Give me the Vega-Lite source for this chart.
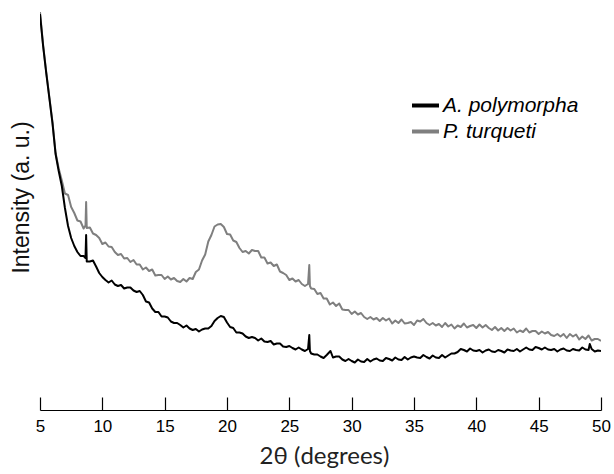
{
  "$schema": "https://vega.github.io/schema/vega-lite/v6.json",
  "width": 561,
  "height": 400,
  "autosize": "none",
  "padding": {"left": 40, "top": 10, "right": 13, "bottom": 64},
  "background": "white",
  "config": {"view": {"stroke": null}},
  "data": {
    "values": [
      {"t": 5.0, "i": 398, "s": "P. turqueti"},
      {"t": 5.25, "i": 365, "s": "P. turqueti"},
      {"t": 5.5, "i": 338, "s": "P. turqueti"},
      {"t": 5.75, "i": 313, "s": "P. turqueti"},
      {"t": 6.0, "i": 288, "s": "P. turqueti"},
      {"t": 6.25, "i": 257, "s": "P. turqueti"},
      {"t": 6.5, "i": 241.5, "s": "P. turqueti"},
      {"t": 6.75, "i": 229.5, "s": "P. turqueti"},
      {"t": 7.0, "i": 216.5, "s": "P. turqueti"},
      {"t": 7.25, "i": 215, "s": "P. turqueti"},
      {"t": 7.5, "i": 203, "s": "P. turqueti"},
      {"t": 7.75, "i": 197, "s": "P. turqueti"},
      {"t": 8.0, "i": 189.5, "s": "P. turqueti"},
      {"t": 8.25, "i": 188.5, "s": "P. turqueti"},
      {"t": 8.5, "i": 181.5, "s": "P. turqueti"},
      {"t": 8.65, "i": 184.5, "s": "P. turqueti"},
      {"t": 8.7, "i": 208, "s": "P. turqueti"},
      {"t": 8.75, "i": 182, "s": "P. turqueti"},
      {"t": 9.0, "i": 182.5, "s": "P. turqueti"},
      {"t": 9.25, "i": 176.5, "s": "P. turqueti"},
      {"t": 9.5, "i": 175, "s": "P. turqueti"},
      {"t": 9.75, "i": 172, "s": "P. turqueti"},
      {"t": 10.0, "i": 166, "s": "P. turqueti"},
      {"t": 10.25, "i": 167.5, "s": "P. turqueti"},
      {"t": 10.5, "i": 163.5, "s": "P. turqueti"},
      {"t": 10.75, "i": 163, "s": "P. turqueti"},
      {"t": 11.0, "i": 158, "s": "P. turqueti"},
      {"t": 11.25, "i": 155, "s": "P. turqueti"},
      {"t": 11.5, "i": 156, "s": "P. turqueti"},
      {"t": 11.75, "i": 151.5, "s": "P. turqueti"},
      {"t": 12.0, "i": 152, "s": "P. turqueti"},
      {"t": 12.25, "i": 148, "s": "P. turqueti"},
      {"t": 12.5, "i": 150, "s": "P. turqueti"},
      {"t": 12.75, "i": 145.5, "s": "P. turqueti"},
      {"t": 13.0, "i": 145.5, "s": "P. turqueti"},
      {"t": 13.25, "i": 140.5, "s": "P. turqueti"},
      {"t": 13.5, "i": 142.5, "s": "P. turqueti"},
      {"t": 13.75, "i": 139, "s": "P. turqueti"},
      {"t": 14.0, "i": 140.5, "s": "P. turqueti"},
      {"t": 14.25, "i": 134.5, "s": "P. turqueti"},
      {"t": 14.5, "i": 135, "s": "P. turqueti"},
      {"t": 14.75, "i": 135, "s": "P. turqueti"},
      {"t": 15.0, "i": 131, "s": "P. turqueti"},
      {"t": 15.25, "i": 133.5, "s": "P. turqueti"},
      {"t": 15.5, "i": 130.5, "s": "P. turqueti"},
      {"t": 15.75, "i": 132, "s": "P. turqueti"},
      {"t": 16.0, "i": 129, "s": "P. turqueti"},
      {"t": 16.25, "i": 128, "s": "P. turqueti"},
      {"t": 16.5, "i": 131, "s": "P. turqueti"},
      {"t": 16.75, "i": 128.5, "s": "P. turqueti"},
      {"t": 17.0, "i": 132, "s": "P. turqueti"},
      {"t": 17.25, "i": 131, "s": "P. turqueti"},
      {"t": 17.5, "i": 138, "s": "P. turqueti"},
      {"t": 17.75, "i": 140.5, "s": "P. turqueti"},
      {"t": 18.0, "i": 149.5, "s": "P. turqueti"},
      {"t": 18.25, "i": 155.5, "s": "P. turqueti"},
      {"t": 18.5, "i": 168.5, "s": "P. turqueti"},
      {"t": 18.75, "i": 175, "s": "P. turqueti"},
      {"t": 19.0, "i": 183.5, "s": "P. turqueti"},
      {"t": 19.25, "i": 185.5, "s": "P. turqueti"},
      {"t": 19.5, "i": 186, "s": "P. turqueti"},
      {"t": 19.75, "i": 183, "s": "P. turqueti"},
      {"t": 20.0, "i": 176, "s": "P. turqueti"},
      {"t": 20.25, "i": 175.5, "s": "P. turqueti"},
      {"t": 20.5, "i": 169.5, "s": "P. turqueti"},
      {"t": 20.75, "i": 168, "s": "P. turqueti"},
      {"t": 21.0, "i": 162, "s": "P. turqueti"},
      {"t": 21.25, "i": 158, "s": "P. turqueti"},
      {"t": 21.5, "i": 159, "s": "P. turqueti"},
      {"t": 21.75, "i": 156.5, "s": "P. turqueti"},
      {"t": 22.0, "i": 160, "s": "P. turqueti"},
      {"t": 22.25, "i": 159, "s": "P. turqueti"},
      {"t": 22.5, "i": 159, "s": "P. turqueti"},
      {"t": 22.75, "i": 152.5, "s": "P. turqueti"},
      {"t": 23.0, "i": 152.5, "s": "P. turqueti"},
      {"t": 23.25, "i": 146.5, "s": "P. turqueti"},
      {"t": 23.5, "i": 147.5, "s": "P. turqueti"},
      {"t": 23.75, "i": 144, "s": "P. turqueti"},
      {"t": 24.0, "i": 145.5, "s": "P. turqueti"},
      {"t": 24.25, "i": 138.5, "s": "P. turqueti"},
      {"t": 24.5, "i": 137, "s": "P. turqueti"},
      {"t": 24.75, "i": 135, "s": "P. turqueti"},
      {"t": 25.0, "i": 130, "s": "P. turqueti"},
      {"t": 25.25, "i": 131.5, "s": "P. turqueti"},
      {"t": 25.5, "i": 128.5, "s": "P. turqueti"},
      {"t": 25.75, "i": 130, "s": "P. turqueti"},
      {"t": 26.0, "i": 126, "s": "P. turqueti"},
      {"t": 26.25, "i": 124, "s": "P. turqueti"},
      {"t": 26.5, "i": 126, "s": "P. turqueti"},
      {"t": 26.6, "i": 145, "s": "P. turqueti"},
      {"t": 26.65, "i": 124, "s": "P. turqueti"},
      {"t": 26.75, "i": 121.5, "s": "P. turqueti"},
      {"t": 27.0, "i": 121, "s": "P. turqueti"},
      {"t": 27.25, "i": 116, "s": "P. turqueti"},
      {"t": 27.5, "i": 117, "s": "P. turqueti"},
      {"t": 27.75, "i": 111.5, "s": "P. turqueti"},
      {"t": 28.0, "i": 111.5, "s": "P. turqueti"},
      {"t": 28.25, "i": 105.5, "s": "P. turqueti"},
      {"t": 28.5, "i": 107.5, "s": "P. turqueti"},
      {"t": 28.75, "i": 104, "s": "P. turqueti"},
      {"t": 29.0, "i": 106.5, "s": "P. turqueti"},
      {"t": 29.25, "i": 100.5, "s": "P. turqueti"},
      {"t": 29.5, "i": 100, "s": "P. turqueti"},
      {"t": 29.75, "i": 100, "s": "P. turqueti"},
      {"t": 30.0, "i": 96, "s": "P. turqueti"},
      {"t": 30.25, "i": 98.5, "s": "P. turqueti"},
      {"t": 30.5, "i": 95.5, "s": "P. turqueti"},
      {"t": 30.75, "i": 97, "s": "P. turqueti"},
      {"t": 31.0, "i": 93, "s": "P. turqueti"},
      {"t": 31.25, "i": 91, "s": "P. turqueti"},
      {"t": 31.5, "i": 93, "s": "P. turqueti"},
      {"t": 31.75, "i": 90.5, "s": "P. turqueti"},
      {"t": 32.0, "i": 92, "s": "P. turqueti"},
      {"t": 32.25, "i": 89, "s": "P. turqueti"},
      {"t": 32.5, "i": 92, "s": "P. turqueti"},
      {"t": 32.75, "i": 89.5, "s": "P. turqueti"},
      {"t": 33.0, "i": 91.5, "s": "P. turqueti"},
      {"t": 33.25, "i": 86.5, "s": "P. turqueti"},
      {"t": 33.5, "i": 89.5, "s": "P. turqueti"},
      {"t": 33.75, "i": 87, "s": "P. turqueti"},
      {"t": 34.0, "i": 90.5, "s": "P. turqueti"},
      {"t": 34.25, "i": 86.5, "s": "P. turqueti"},
      {"t": 34.5, "i": 87, "s": "P. turqueti"},
      {"t": 34.75, "i": 88, "s": "P. turqueti"},
      {"t": 35.0, "i": 85, "s": "P. turqueti"},
      {"t": 35.25, "i": 89.5, "s": "P. turqueti"},
      {"t": 35.5, "i": 88.5, "s": "P. turqueti"},
      {"t": 35.75, "i": 91, "s": "P. turqueti"},
      {"t": 36.0, "i": 87, "s": "P. turqueti"},
      {"t": 36.25, "i": 85, "s": "P. turqueti"},
      {"t": 36.5, "i": 87, "s": "P. turqueti"},
      {"t": 36.75, "i": 84.5, "s": "P. turqueti"},
      {"t": 37.0, "i": 86, "s": "P. turqueti"},
      {"t": 37.25, "i": 83, "s": "P. turqueti"},
      {"t": 37.5, "i": 87, "s": "P. turqueti"},
      {"t": 37.75, "i": 83.5, "s": "P. turqueti"},
      {"t": 38.0, "i": 85.5, "s": "P. turqueti"},
      {"t": 38.25, "i": 81.5, "s": "P. turqueti"},
      {"t": 38.5, "i": 84.5, "s": "P. turqueti"},
      {"t": 38.75, "i": 83, "s": "P. turqueti"},
      {"t": 39.0, "i": 86.5, "s": "P. turqueti"},
      {"t": 39.25, "i": 82.5, "s": "P. turqueti"},
      {"t": 39.5, "i": 84, "s": "P. turqueti"},
      {"t": 39.75, "i": 85, "s": "P. turqueti"},
      {"t": 40.0, "i": 82, "s": "P. turqueti"},
      {"t": 40.25, "i": 85.5, "s": "P. turqueti"},
      {"t": 40.5, "i": 82.5, "s": "P. turqueti"},
      {"t": 40.75, "i": 85, "s": "P. turqueti"},
      {"t": 41.0, "i": 82, "s": "P. turqueti"},
      {"t": 41.25, "i": 80, "s": "P. turqueti"},
      {"t": 41.5, "i": 83, "s": "P. turqueti"},
      {"t": 41.75, "i": 79.5, "s": "P. turqueti"},
      {"t": 42.0, "i": 82, "s": "P. turqueti"},
      {"t": 42.25, "i": 79, "s": "P. turqueti"},
      {"t": 42.5, "i": 82, "s": "P. turqueti"},
      {"t": 42.75, "i": 79.5, "s": "P. turqueti"},
      {"t": 43.0, "i": 81.5, "s": "P. turqueti"},
      {"t": 43.25, "i": 77.5, "s": "P. turqueti"},
      {"t": 43.5, "i": 79.5, "s": "P. turqueti"},
      {"t": 43.75, "i": 78, "s": "P. turqueti"},
      {"t": 44.0, "i": 81.5, "s": "P. turqueti"},
      {"t": 44.25, "i": 77.5, "s": "P. turqueti"},
      {"t": 44.5, "i": 79, "s": "P. turqueti"},
      {"t": 44.75, "i": 79, "s": "P. turqueti"},
      {"t": 45.0, "i": 76, "s": "P. turqueti"},
      {"t": 45.25, "i": 78.5, "s": "P. turqueti"},
      {"t": 45.5, "i": 76.5, "s": "P. turqueti"},
      {"t": 45.75, "i": 78, "s": "P. turqueti"},
      {"t": 46.0, "i": 75, "s": "P. turqueti"},
      {"t": 46.25, "i": 74, "s": "P. turqueti"},
      {"t": 46.5, "i": 76, "s": "P. turqueti"},
      {"t": 46.75, "i": 73.5, "s": "P. turqueti"},
      {"t": 47.0, "i": 76, "s": "P. turqueti"},
      {"t": 47.25, "i": 72, "s": "P. turqueti"},
      {"t": 47.5, "i": 76, "s": "P. turqueti"},
      {"t": 47.75, "i": 73.5, "s": "P. turqueti"},
      {"t": 48.0, "i": 75.5, "s": "P. turqueti"},
      {"t": 48.25, "i": 70.5, "s": "P. turqueti"},
      {"t": 48.5, "i": 73.5, "s": "P. turqueti"},
      {"t": 48.75, "i": 71, "s": "P. turqueti"},
      {"t": 49.0, "i": 74.5, "s": "P. turqueti"},
      {"t": 49.25, "i": 69.5, "s": "P. turqueti"},
      {"t": 49.5, "i": 71, "s": "P. turqueti"},
      {"t": 49.75, "i": 71, "s": "P. turqueti"},
      {"t": 50.0, "i": 69, "s": "P. turqueti"},
      {"t": 5.0, "i": 396, "s": "A. polymorpha"},
      {"t": 5.25, "i": 364, "s": "A. polymorpha"},
      {"t": 5.5, "i": 337, "s": "A. polymorpha"},
      {"t": 5.75, "i": 312, "s": "A. polymorpha"},
      {"t": 6.0, "i": 287, "s": "A. polymorpha"},
      {"t": 6.25, "i": 256, "s": "A. polymorpha"},
      {"t": 6.5, "i": 239, "s": "A. polymorpha"},
      {"t": 6.75, "i": 224, "s": "A. polymorpha"},
      {"t": 7.0, "i": 202, "s": "A. polymorpha"},
      {"t": 7.25, "i": 184, "s": "A. polymorpha"},
      {"t": 7.5, "i": 172, "s": "A. polymorpha"},
      {"t": 7.75, "i": 164, "s": "A. polymorpha"},
      {"t": 8.0, "i": 158, "s": "A. polymorpha"},
      {"t": 8.25, "i": 154, "s": "A. polymorpha"},
      {"t": 8.5, "i": 154, "s": "A. polymorpha"},
      {"t": 8.65, "i": 152, "s": "A. polymorpha"},
      {"t": 8.7, "i": 175, "s": "A. polymorpha"},
      {"t": 8.75, "i": 148.5, "s": "A. polymorpha"},
      {"t": 9.0, "i": 148.5, "s": "A. polymorpha"},
      {"t": 9.25, "i": 149.5, "s": "A. polymorpha"},
      {"t": 9.5, "i": 143.5, "s": "A. polymorpha"},
      {"t": 9.75, "i": 137, "s": "A. polymorpha"},
      {"t": 10.0, "i": 133, "s": "A. polymorpha"},
      {"t": 10.25, "i": 130, "s": "A. polymorpha"},
      {"t": 10.5, "i": 127.5, "s": "A. polymorpha"},
      {"t": 10.75, "i": 129.5, "s": "A. polymorpha"},
      {"t": 11.0, "i": 125.5, "s": "A. polymorpha"},
      {"t": 11.25, "i": 124, "s": "A. polymorpha"},
      {"t": 11.5, "i": 125, "s": "A. polymorpha"},
      {"t": 11.75, "i": 121.5, "s": "A. polymorpha"},
      {"t": 12.0, "i": 122.5, "s": "A. polymorpha"},
      {"t": 12.25, "i": 122.5, "s": "A. polymorpha"},
      {"t": 12.5, "i": 119.5, "s": "A. polymorpha"},
      {"t": 12.75, "i": 118, "s": "A. polymorpha"},
      {"t": 13.0, "i": 119, "s": "A. polymorpha"},
      {"t": 13.25, "i": 115, "s": "A. polymorpha"},
      {"t": 13.5, "i": 108.5, "s": "A. polymorpha"},
      {"t": 13.75, "i": 107.5, "s": "A. polymorpha"},
      {"t": 14.0, "i": 101.5, "s": "A. polymorpha"},
      {"t": 14.25, "i": 98, "s": "A. polymorpha"},
      {"t": 14.5, "i": 98, "s": "A. polymorpha"},
      {"t": 14.75, "i": 93.5, "s": "A. polymorpha"},
      {"t": 15.0, "i": 93.5, "s": "A. polymorpha"},
      {"t": 15.25, "i": 92.5, "s": "A. polymorpha"},
      {"t": 15.5, "i": 88.5, "s": "A. polymorpha"},
      {"t": 15.75, "i": 87, "s": "A. polymorpha"},
      {"t": 16.0, "i": 87, "s": "A. polymorpha"},
      {"t": 16.25, "i": 85, "s": "A. polymorpha"},
      {"t": 16.5, "i": 82.5, "s": "A. polymorpha"},
      {"t": 16.75, "i": 84.5, "s": "A. polymorpha"},
      {"t": 17.0, "i": 81.5, "s": "A. polymorpha"},
      {"t": 17.25, "i": 80, "s": "A. polymorpha"},
      {"t": 17.5, "i": 81, "s": "A. polymorpha"},
      {"t": 17.75, "i": 78.5, "s": "A. polymorpha"},
      {"t": 18.0, "i": 80.5, "s": "A. polymorpha"},
      {"t": 18.25, "i": 81.5, "s": "A. polymorpha"},
      {"t": 18.5, "i": 81.5, "s": "A. polymorpha"},
      {"t": 18.75, "i": 84, "s": "A. polymorpha"},
      {"t": 19.0, "i": 89, "s": "A. polymorpha"},
      {"t": 19.25, "i": 92, "s": "A. polymorpha"},
      {"t": 19.5, "i": 94, "s": "A. polymorpha"},
      {"t": 19.75, "i": 93, "s": "A. polymorpha"},
      {"t": 20.0, "i": 87.5, "s": "A. polymorpha"},
      {"t": 20.25, "i": 83, "s": "A. polymorpha"},
      {"t": 20.5, "i": 82, "s": "A. polymorpha"},
      {"t": 20.75, "i": 77.5, "s": "A. polymorpha"},
      {"t": 21.0, "i": 77.5, "s": "A. polymorpha"},
      {"t": 21.25, "i": 76.5, "s": "A. polymorpha"},
      {"t": 21.5, "i": 73.5, "s": "A. polymorpha"},
      {"t": 21.75, "i": 72, "s": "A. polymorpha"},
      {"t": 22.0, "i": 73, "s": "A. polymorpha"},
      {"t": 22.25, "i": 72, "s": "A. polymorpha"},
      {"t": 22.5, "i": 69.5, "s": "A. polymorpha"},
      {"t": 22.75, "i": 71.5, "s": "A. polymorpha"},
      {"t": 23.0, "i": 68.5, "s": "A. polymorpha"},
      {"t": 23.25, "i": 68, "s": "A. polymorpha"},
      {"t": 23.5, "i": 69, "s": "A. polymorpha"},
      {"t": 23.75, "i": 65.5, "s": "A. polymorpha"},
      {"t": 24.0, "i": 66.5, "s": "A. polymorpha"},
      {"t": 24.25, "i": 66.5, "s": "A. polymorpha"},
      {"t": 24.5, "i": 63.5, "s": "A. polymorpha"},
      {"t": 24.75, "i": 63, "s": "A. polymorpha"},
      {"t": 25.0, "i": 64, "s": "A. polymorpha"},
      {"t": 25.25, "i": 62, "s": "A. polymorpha"},
      {"t": 25.5, "i": 60.5, "s": "A. polymorpha"},
      {"t": 25.75, "i": 62.5, "s": "A. polymorpha"},
      {"t": 26.0, "i": 60.5, "s": "A. polymorpha"},
      {"t": 26.25, "i": 59, "s": "A. polymorpha"},
      {"t": 26.5, "i": 61, "s": "A. polymorpha"},
      {"t": 26.6, "i": 75, "s": "A. polymorpha"},
      {"t": 26.65, "i": 59, "s": "A. polymorpha"},
      {"t": 26.75, "i": 56.5, "s": "A. polymorpha"},
      {"t": 27.0, "i": 55.5, "s": "A. polymorpha"},
      {"t": 27.25, "i": 55.5, "s": "A. polymorpha"},
      {"t": 27.5, "i": 53.5, "s": "A. polymorpha"},
      {"t": 27.75, "i": 52, "s": "A. polymorpha"},
      {"t": 28.0, "i": 55, "s": "A. polymorpha"},
      {"t": 28.3, "i": 59, "s": "A. polymorpha"},
      {"t": 28.5, "i": 52.5, "s": "A. polymorpha"},
      {"t": 28.75, "i": 53.5, "s": "A. polymorpha"},
      {"t": 29.0, "i": 53.5, "s": "A. polymorpha"},
      {"t": 29.25, "i": 50.5, "s": "A. polymorpha"},
      {"t": 29.5, "i": 49, "s": "A. polymorpha"},
      {"t": 29.75, "i": 51, "s": "A. polymorpha"},
      {"t": 30.0, "i": 49, "s": "A. polymorpha"},
      {"t": 30.25, "i": 47.5, "s": "A. polymorpha"},
      {"t": 30.5, "i": 50.5, "s": "A. polymorpha"},
      {"t": 30.75, "i": 48.5, "s": "A. polymorpha"},
      {"t": 31.0, "i": 48, "s": "A. polymorpha"},
      {"t": 31.25, "i": 51, "s": "A. polymorpha"},
      {"t": 31.5, "i": 48.5, "s": "A. polymorpha"},
      {"t": 31.75, "i": 50.5, "s": "A. polymorpha"},
      {"t": 32.0, "i": 51.5, "s": "A. polymorpha"},
      {"t": 32.25, "i": 49.5, "s": "A. polymorpha"},
      {"t": 32.5, "i": 49, "s": "A. polymorpha"},
      {"t": 32.75, "i": 52, "s": "A. polymorpha"},
      {"t": 33.0, "i": 51, "s": "A. polymorpha"},
      {"t": 33.25, "i": 49.5, "s": "A. polymorpha"},
      {"t": 33.5, "i": 52.5, "s": "A. polymorpha"},
      {"t": 33.75, "i": 50.5, "s": "A. polymorpha"},
      {"t": 34.0, "i": 50, "s": "A. polymorpha"},
      {"t": 34.25, "i": 53, "s": "A. polymorpha"},
      {"t": 34.5, "i": 50.5, "s": "A. polymorpha"},
      {"t": 34.75, "i": 52.5, "s": "A. polymorpha"},
      {"t": 35.0, "i": 53.5, "s": "A. polymorpha"},
      {"t": 35.25, "i": 52.5, "s": "A. polymorpha"},
      {"t": 35.5, "i": 52, "s": "A. polymorpha"},
      {"t": 35.75, "i": 55, "s": "A. polymorpha"},
      {"t": 36.0, "i": 53, "s": "A. polymorpha"},
      {"t": 36.25, "i": 51.5, "s": "A. polymorpha"},
      {"t": 36.5, "i": 54.5, "s": "A. polymorpha"},
      {"t": 36.75, "i": 52.5, "s": "A. polymorpha"},
      {"t": 37.0, "i": 52, "s": "A. polymorpha"},
      {"t": 37.25, "i": 55, "s": "A. polymorpha"},
      {"t": 37.5, "i": 52.5, "s": "A. polymorpha"},
      {"t": 37.75, "i": 54.5, "s": "A. polymorpha"},
      {"t": 38.0, "i": 56.5, "s": "A. polymorpha"},
      {"t": 38.25, "i": 56.5, "s": "A. polymorpha"},
      {"t": 38.5, "i": 58, "s": "A. polymorpha"},
      {"t": 38.75, "i": 61, "s": "A. polymorpha"},
      {"t": 39.0, "i": 60, "s": "A. polymorpha"},
      {"t": 39.25, "i": 58.5, "s": "A. polymorpha"},
      {"t": 39.5, "i": 61.5, "s": "A. polymorpha"},
      {"t": 39.75, "i": 59.5, "s": "A. polymorpha"},
      {"t": 40.0, "i": 59, "s": "A. polymorpha"},
      {"t": 40.25, "i": 60, "s": "A. polymorpha"},
      {"t": 40.5, "i": 57.5, "s": "A. polymorpha"},
      {"t": 40.75, "i": 59.5, "s": "A. polymorpha"},
      {"t": 41.0, "i": 60.5, "s": "A. polymorpha"},
      {"t": 41.25, "i": 58.5, "s": "A. polymorpha"},
      {"t": 41.5, "i": 58, "s": "A. polymorpha"},
      {"t": 41.75, "i": 60, "s": "A. polymorpha"},
      {"t": 42.0, "i": 59, "s": "A. polymorpha"},
      {"t": 42.25, "i": 57.5, "s": "A. polymorpha"},
      {"t": 42.5, "i": 60.5, "s": "A. polymorpha"},
      {"t": 42.75, "i": 59.5, "s": "A. polymorpha"},
      {"t": 43.0, "i": 59, "s": "A. polymorpha"},
      {"t": 43.25, "i": 61, "s": "A. polymorpha"},
      {"t": 43.5, "i": 58.5, "s": "A. polymorpha"},
      {"t": 43.75, "i": 60.5, "s": "A. polymorpha"},
      {"t": 44.0, "i": 62.5, "s": "A. polymorpha"},
      {"t": 44.25, "i": 60.5, "s": "A. polymorpha"},
      {"t": 44.5, "i": 60, "s": "A. polymorpha"},
      {"t": 44.75, "i": 63, "s": "A. polymorpha"},
      {"t": 45.0, "i": 62, "s": "A. polymorpha"},
      {"t": 45.25, "i": 60.5, "s": "A. polymorpha"},
      {"t": 45.5, "i": 62.5, "s": "A. polymorpha"},
      {"t": 45.75, "i": 60.5, "s": "A. polymorpha"},
      {"t": 46.0, "i": 60, "s": "A. polymorpha"},
      {"t": 46.25, "i": 61, "s": "A. polymorpha"},
      {"t": 46.5, "i": 58.5, "s": "A. polymorpha"},
      {"t": 46.75, "i": 60.5, "s": "A. polymorpha"},
      {"t": 47.0, "i": 61.5, "s": "A. polymorpha"},
      {"t": 47.25, "i": 59.5, "s": "A. polymorpha"},
      {"t": 47.5, "i": 59, "s": "A. polymorpha"},
      {"t": 47.75, "i": 61, "s": "A. polymorpha"},
      {"t": 48.0, "i": 60, "s": "A. polymorpha"},
      {"t": 48.25, "i": 59.5, "s": "A. polymorpha"},
      {"t": 48.5, "i": 62.5, "s": "A. polymorpha"},
      {"t": 48.75, "i": 60.5, "s": "A. polymorpha"},
      {"t": 49.0, "i": 60, "s": "A. polymorpha"},
      {"t": 49.1, "i": 66, "s": "A. polymorpha"},
      {"t": 49.25, "i": 61, "s": "A. polymorpha"},
      {"t": 49.5, "i": 58.5, "s": "A. polymorpha"},
      {"t": 49.75, "i": 59.5, "s": "A. polymorpha"},
      {"t": 50.0, "i": 59, "s": "A. polymorpha"}
    ]
  },
  "mark": {"type": "line", "strokeWidth": 2, "strokeJoin": "round", "clip": true},
  "encoding": {
    "x": {
      "field": "t",
      "type": "quantitative",
      "scale": {"domain": [5, 50], "nice": false, "zero": false},
      "axis": {
        "values": [5, 10, 15, 20, 25, 30, 35, 40, 45, 50],
        "grid": false,
        "domainColor": "#000000",
        "domainWidth": 1.2,
        "tickColor": "#000000",
        "tickWidth": 1.2,
        "tickSize": -13,
        "labelFont": "Liberation Sans",
        "labelFontSize": 17,
        "labelColor": "#000000",
        "labelFlush": false,
        "labelBaseline": "alphabetic",
        "labelPadding": 34,
        "title": "2θ (degrees)",
        "titleFont": "Lato",
        "titleFontSize": 24,
        "titleFontWeight": "normal",
        "titleColor": "#222222",
        "titleBaseline": "alphabetic",
        "titleAlign": "center",
        "titleX": 284,
        "titleY": 53
      }
    },
    "y": {
      "field": "i",
      "type": "quantitative",
      "scale": {"domain": [0, 400], "nice": false, "zero": false},
      "axis": {
        "domain": false,
        "ticks": false,
        "labels": false,
        "grid": false,
        "title": "Intensity (a. u.)",
        "titleFont": "Liberation Sans",
        "titleFontSize": 23,
        "titleFontWeight": "normal",
        "titleColor": "#111111",
        "titleBaseline": "alphabetic",
        "titleAlign": "center",
        "titleAngle": -90,
        "titleX": -12,
        "titleY": 187
      }
    },
    "color": {
      "field": "s",
      "type": "nominal",
      "scale": {"domain": ["A. polymorpha", "P. turqueti"], "range": ["#000000", "#7f7f7f"]},
      "legend": {
        "title": null,
        "orient": "none",
        "legendX": 370,
        "legendY": 80,
        "padding": 0,
        "symbolType": "stroke",
        "symbolSize": 729,
        "symbolStrokeWidth": 4,
        "rowPadding": 0,
        "labelFont": "Liberation Sans",
        "labelFontSize": 21,
        "labelFontStyle": "italic",
        "labelColor": "#000000",
        "labelOffset": 2
      }
    },
    "order": {"field": "t", "type": "quantitative"}
  }
}
